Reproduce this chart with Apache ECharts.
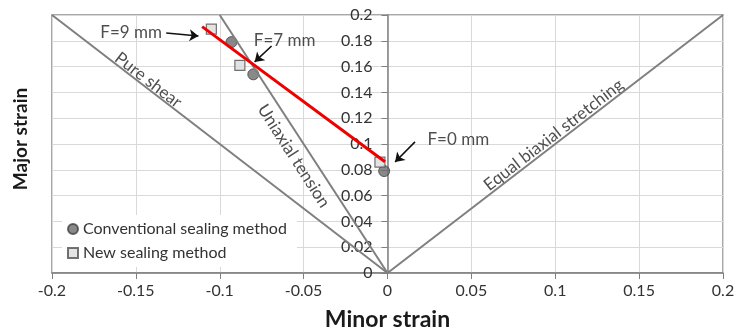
<!DOCTYPE html>
<html>
<head>
<meta charset="utf-8">
<script src="https://cdn.jsdelivr.net/npm/echarts@6/dist/echarts.min.js"></script>
<style>
  html, body { margin: 0; padding: 0; background: #fff; }
  #chart { width: 736px; height: 329px; }
</style>
</head>
<body>
<div id="chart"></div>
<script>
// measured points (minor strain, major strain)
var convX = [-0.093, -0.080, -0.002];
var convY = [0.179, 0.154, 0.079];
var newX = [-0.105, -0.088, -0.0045];
var newY = [0.189, 0.161, 0.086];

// red trend line end points
var trendX = [-0.1105, -0.0015];
var trendY = [0.191, 0.0863];

// forming limit reference paths
var pureShearX = [-0.2, 0];
var pureShearY = [0.2, 0];
var uniaxialX = [-0.1, 0];
var uniaxialY = [0.2, 0];
var biaxialX = [0, 0.2];
var biaxialY = [0, 0.2];

// text labels along the paths / for the punch positions
var noteText = ['Pure shear', 'Uniaxial tension', 'Equal biaxial stretching', 'F=9 mm', 'F=7 mm', 'F=0 mm'];
var noteX = [-0.1426, -0.0559, 0.099, -0.1528, -0.0613, 0.0422];
var noteY = [0.1496, 0.0907, 0.107, 0.1868, 0.1806, 0.1031];
var noteRot = [-37.6, -57.3, 37.6, 0, 0, 0];

// arrows: start -> tip
var arrowX1 = [-0.1319, -0.0691, 0.0164];
var arrowY1 = [0.186, 0.176, 0.1016];
var arrowX2 = [-0.1127, -0.0792, 0.0045];
var arrowY2 = [0.1837, 0.1636, 0.086];

function pairs(xs, ys) {
    return xs.map(function (x, i) { return [x, ys[i]]; });
}

var W = 736, gridL = 52, gridR = 13;
var chart = echarts.init(document.getElementById('chart'));
var font = 'Lato, "Open Sans", sans-serif';
var pathStyle = { color: '#7f7f7f', width: 2 };

var option = {
    animation: false,
    textStyle: { fontFamily: font },
    grid: {
        left: gridL, right: gridR, top: 15, bottom: 56,
        outerBoundsMode: 'none',
        show: true, borderColor: '#8c8c8c', borderWidth: 1.5
    },
    legend: {
        data: ['Conventional sealing method', 'New sealing method'],
        orient: 'vertical',
        left: 62, top: 215,
        itemWidth: 10, itemHeight: 10, itemGap: 8,
        backgroundColor: '#fff',
        padding: [6, 10, 6, 5],
        textStyle: { fontFamily: font, fontSize: 16, color: '#333' }
    },
    xAxis: {
        type: 'value',
        min: -0.2, max: 0.2, interval: 0.05,
        name: 'Minor strain',
        nameLocation: 'middle', nameGap: 35,
        nameTextStyle: { fontFamily: font, fontSize: 23, fontWeight: 'bold', color: '#1a1a1a' },
        axisLine: { onZero: false, lineStyle: { color: '#7f7f7f', width: 1.5 } },
        axisTick: { show: true, length: 6, lineStyle: { color: '#7f7f7f' } },
        axisLabel: { fontSize: 16, color: '#333', margin: 10 },
        splitLine: { show: true, lineStyle: { color: '#d9d9d9' } }
    },
    yAxis: {
        type: 'value',
        min: 0, max: 0.2, interval: 0.02,
        // the axis sits on minor strain = 0, the middle of the plot
        offset: -(W - gridL - gridR) / 2,
        axisLine: { onZero: false, lineStyle: { color: '#7f7f7f', width: 1.5 } },
        axisTick: { show: true, length: 6, lineStyle: { color: '#7f7f7f' } },
        axisLabel: { fontSize: 16, color: '#333', margin: 15 },
        splitLine: { show: true, lineStyle: { color: '#d9d9d9' } }
    },
    graphic: [{
        type: 'text',
        x: 21, y: 139,
        rotation: Math.PI / 2,
        style: {
            text: 'Major strain', font: 'bold 19px ' + font, fill: '#1a1a1a',
            textAlign: 'center', textVerticalAlign: 'middle'
        }
    }],
    series: [
        { type: 'line', name: 'pure', data: pairs(pureShearX, pureShearY), symbol: 'none', lineStyle: pathStyle, silent: true },
        { type: 'line', name: 'uni', data: pairs(uniaxialX, uniaxialY), symbol: 'none', lineStyle: pathStyle, silent: true },
        { type: 'line', name: 'bi', data: pairs(biaxialX, biaxialY), symbol: 'none', lineStyle: pathStyle, silent: true },
        { type: 'line', name: 'trend', data: pairs(trendX, trendY), symbol: 'none',
          lineStyle: { color: '#ee0000', width: 3 }, silent: true },
        {
            type: 'lines', coordinateSystem: 'cartesian2d',
            symbol: ['none', 'arrow'], symbolSize: 9,
            lineStyle: { color: '#111', width: 1.6, opacity: 1 },
            data: arrowX1.map(function (x, i) {
                return { coords: [[x, arrowY1[i]], [arrowX2[i], arrowY2[i]]] };
            })
        },
        {
            type: 'scatter', name: 'Conventional sealing method',
            data: pairs(convX, convY), symbol: 'circle', symbolSize: 11,
            itemStyle: { color: '#6b6b6b', borderColor: '#404040', borderWidth: 1 }
        },
        {
            type: 'scatter', name: 'New sealing method',
            data: pairs(newX, newY), symbol: 'rect', symbolSize: 10,
            itemStyle: { color: '#dcdcdc', borderColor: '#505050', borderWidth: 1.2 }
        },
        {
            type: 'scatter', name: 'notes', silent: true,
            symbolSize: 1, itemStyle: { color: 'transparent' },
            data: noteX.map(function (x, i) {
                return {
                    value: [x, noteY[i]],
                    label: { show: true, position: 'inside', formatter: noteText[i], rotate: noteRot[i] }
                };
            }),
            label: { fontFamily: font, fontSize: 17, color: '#222' }
        }
    ]
};
chart.setOption(option);
</script>
</body>
</html>
